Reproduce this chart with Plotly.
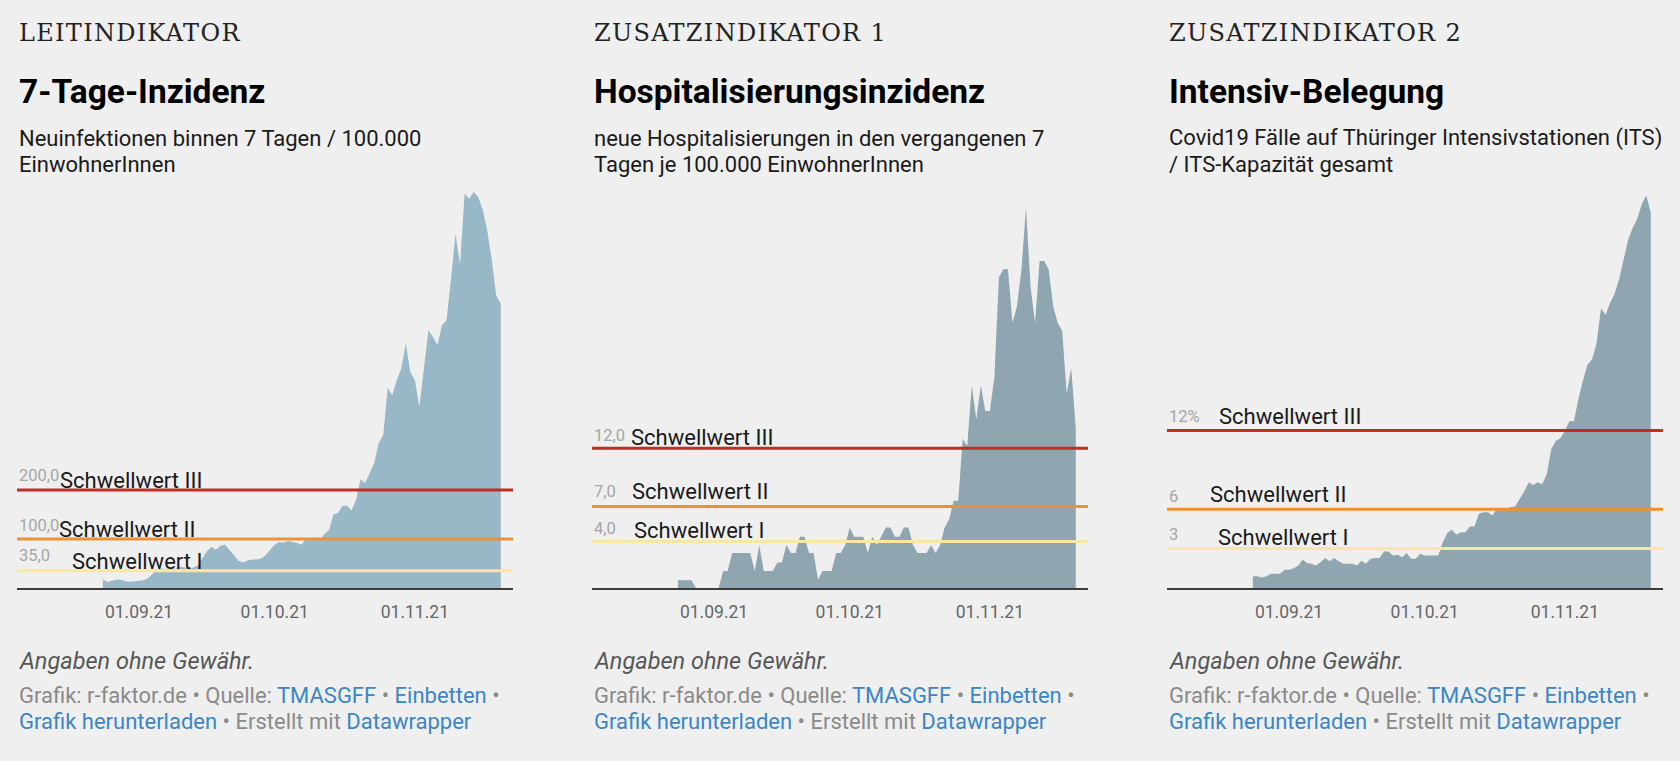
import pandas as pd
import plotly.graph_objects as go

# --- data ---
start_date = "2021-08-24"
n_days = 89

inzidenz = [18, 12, 15, 17, 17, 14, 13, 14, 15, 16,
            20, 30, 38, 40, 38, 41, 39, 44, 42, 40,
            42, 46, 60, 75, 84, 78, 86, 88, 78, 66,
            55, 52, 56, 58, 58, 60, 67, 78, 88, 94,
            93, 96, 94, 92, 88, 102, 100, 104, 98, 110,
            118, 150, 153, 168, 168, 158, 180, 222, 214, 235,
            254, 296, 312, 408, 393, 424, 448, 500, 440, 424,
            370, 448, 526, 512, 496, 536, 546, 630, 722, 660,
            805, 794, 808, 798, 772, 730, 670, 596, 580]

hospitalisierung = [0.66, 0.66, 0.66, 0.66, 0, 0, 0, 0, 0, 0,
                    1.46, 1.46, 3.0, 3.0, 3.0, 3.0, 3.0, 1.46, 3.7, 1.46,
                    1.46, 1.46, 2.2, 2.2, 3.7, 3.0, 3.0, 4.4, 4.4, 3.0,
                    3.0, 0.7, 1.46, 1.46, 1.46, 3.0, 3.0, 3.7, 5.2, 4.4,
                    4.4, 4.4, 3.0, 4.4, 3.7, 4.4, 5.2, 5.2, 4.4, 4.4,
                    5.2, 5.2, 3.7, 3.0, 3.0, 3.0, 3.7, 3.0, 3.7, 5.2,
                    5.9, 7.5, 7.5, 12.8, 12.2, 17.4, 14.5, 17.4, 15.2, 15.2,
                    18.1, 26.7, 27.4, 27.4, 22.8, 24.2, 27.4, 32.7, 25.9, 22.8,
                    28.1, 28.1, 27.4, 24.2, 22.8, 22.1, 16.7, 18.9, 13.7]

its_belegung = [0.89, 0.89, 0.80, 0.90, 1.09, 1.09, 1.09, 1.39, 1.39, 1.50,
                1.70, 2.15, 1.90, 1.85, 1.72, 1.98, 2.28, 2.03, 2.28, 2.03,
                1.85, 1.85, 1.85, 1.72, 2.08, 1.85, 2.23, 2.28, 2.28, 2.78,
                2.78, 2.48, 2.53, 2.35, 2.66, 2.23, 2.23, 2.60, 2.48, 2.48,
                2.48, 2.48, 3.49, 4.18, 4.43, 4.05, 4.25, 4.25, 4.68, 4.68,
                5.65, 5.77, 5.77, 5.52, 6.08, 6.08, 6.03, 6.15, 6.20, 6.78,
                7.34, 8.05, 7.85, 8.05, 7.90, 8.68, 10.58, 11.2, 11.4, 11.97,
                12.7, 12.7, 14.4, 15.8, 17.0, 17.4, 18.6, 21.3, 20.8, 21.7,
                22.4, 23.5, 25.0, 26.5, 27.4, 28.1, 29.2, 29.9, 28.6]

kicker = ["LEITINDIKATOR", "ZUSATZINDIKATOR 1", "ZUSATZINDIKATOR 2"]
titles = ["7-Tage-Inzidenz", "Hospitalisierungsinzidenz", "Intensiv-Belegung"]
subtitles = [["Neuinfektionen binnen 7 Tagen / 100.000", "EinwohnerInnen"],
             ["neue Hospitalisierungen in den vergangenen 7", "Tagen je 100.000 EinwohnerInnen"],
             ["Covid19 Fälle auf Thüringer Intensivstationen (ITS)", "/ ITS-Kapazität gesamt"]]

threshold_names = ["Schwellwert I", "Schwellwert II", "Schwellwert III"]
thresholds = [[35, 100, 200], [4, 7, 12], [3, 6, 12]]
threshold_text = [["35,0", "100,0", "200,0"], ["4,0", "7,0", "12,0"], ["3", "6", "12%"]]

tick_dates = ["2021-09-01", "2021-10-01", "2021-11-01"]
tick_labels = ["01.09.21", "01.10.21", "01.11.21"]

# --- styling ---
W, H = 1680, 761
BG = "#efefef"
fills = ["#98b7c7", "#8fa6b1", "#8fa6b1"]
line_colors = ["#fbe5a3", "#ec9136", "#bd2f27"]
y_max = [812, 34.2, 30.3]
# label offsets: (value label yshift, name xshift, name yshift) per threshold
label_pos = [
    [(15, 53, 9), (13, 40, 9), (14, 41, 9)],
    [(13, 40, 11), (15, 38, 15), (13, 37, 11)],
    [(14, 49, 11), (13, 41, 15), (14, 50, 14)],
]
LINK = "#3a86c8"

dates = pd.date_range(start_date, periods=n_days, freq="D")
series = [inzidenz, hospitalisierung, its_belegung]

fig = go.Figure()
annotations = []
shapes = []

y_bottom = 1 - 588 / H
y_top = 1 - 190 / H


def text_at(x, ytop_px, text, size, color, family="Roboto"):
    return dict(xref="paper", yref="paper", x=x, y=1 - ytop_px / H,
                xanchor="left", yanchor="middle", showarrow=False, align="left",
                text=text, font=dict(family=family, size=size, color=color))


for p in range(3):
    left = 17 + 575 * p
    right = 513 + 575 * p
    sfx = "" if p == 0 else str(p + 1)
    xa, ya = "x" + sfx, "y" + sfx

    fig.add_trace(go.Scatter(x=dates, y=series[p], mode="lines",
                             line=dict(width=0, color=fills[p]),
                             fill="tozeroy", fillcolor=fills[p],
                             xaxis=xa, yaxis=ya, hoverinfo="x+y",
                             showlegend=False))

    fig.update_layout(**{
        "xaxis" + sfx: dict(domain=[left / W, right / W], anchor=ya,
                            range=["2021-08-05", "2021-11-22 17:00"],
                            showgrid=False, zeroline=False,
                            showline=True, linecolor="#3d3d3d", linewidth=2,
                            tickvals=tick_dates, ticktext=tick_labels,
                            ticks="", ticklabelstandoff=7,
                            tickfont=dict(family="Roboto", size=17.5, color="#666666")),
        "yaxis" + sfx: dict(domain=[y_bottom, y_top], anchor=xa,
                            range=[0, y_max[p]], visible=False),
    })

    for k in range(3):
        val = thresholds[p][k]
        shapes.append(dict(type="line", xref=xa + " domain", yref=ya,
                           x0=0, x1=1, y0=val, y1=val,
                           line=dict(color=line_colors[k], width=3)))
        vy, nx, ny = label_pos[p][k]
        annotations.append(dict(xref=xa + " domain", yref=ya, x=0, y=val,
                                xanchor="left", yanchor="middle", yshift=vy,
                                text=threshold_text[p][k], showarrow=False,
                                font=dict(family="Roboto", size=16.5, color="#a6a6a6")))
        annotations.append(dict(xref=xa + " domain", yref=ya, x=0, y=val,
                                xanchor="left", yanchor="middle", xshift=nx, yshift=ny,
                                text=threshold_names[k], showarrow=False,
                                font=dict(family="Roboto", size=22, color="#1a1a1a")))

    x0 = left / W
    annotations.append(text_at(x0, 33, '<span style="letter-spacing:1.3px">%s</span>' % kicker[p],
                               24, "#222222", family="DejaVu Serif"))
    annotations.append(text_at(x0, 91, "<b>" + titles[p] + "</b>", 33.5, "#000000"))
    annotations.append(text_at(x0, 138, subtitles[p][0], 22, "#1a1a1a"))
    annotations.append(text_at(x0, 165, subtitles[p][1], 22, "#1a1a1a"))
    annotations.append(text_at(x0, 661, "<i>Angaben ohne Gewähr.</i>", 23.5, "#575757"))
    line1 = ('Grafik: r-faktor.de • Quelle: <span style="color:%s">TMASGFF</span> • '
             '<span style="color:%s">Einbetten</span> •') % (LINK, LINK)
    line2 = ('<span style="color:%s">Grafik herunterladen</span> • Erstellt mit '
             '<span style="color:%s">Datawrapper</span>') % (LINK, LINK)
    annotations.append(text_at(x0, 695, line1, 22, "#8a8a8a"))
    annotations.append(text_at(x0, 721, line2, 22, "#8a8a8a"))

fig.update_layout(width=W, height=H, margin=dict(l=0, r=0, t=0, b=0),
                  paper_bgcolor=BG, plot_bgcolor="rgba(0,0,0,0)",
                  annotations=annotations, shapes=shapes, showlegend=False)

fig.write_html("out.html", config={"displayModeBar": False},
               post_script="document.body.style.margin='0';document.body.style.overflow='hidden';")
